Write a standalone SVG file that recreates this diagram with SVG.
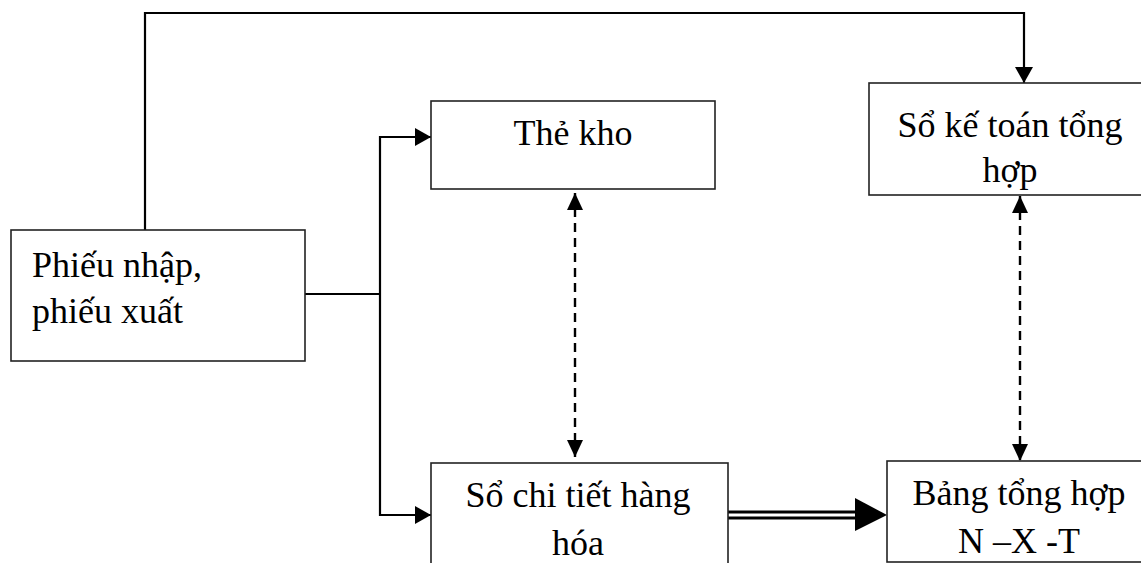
<svg xmlns="http://www.w3.org/2000/svg" width="1141" height="563" viewBox="0 0 1141 563">
  <style>
    .box { fill: #ffffff; stroke: #222222; stroke-width: 1.6; }
    .lbl { font-family: "Liberation Serif", "Times New Roman", serif; font-size: 36px; fill: #000000; }
    .mid { text-anchor: middle; }
    .link { fill: none; stroke: #000000; stroke-width: 2.2; }
    .dash { fill: none; stroke: #000000; stroke-width: 2.4; stroke-dasharray: 9 6; }
    .dbl { fill: none; stroke: #000000; stroke-width: 3.2; }
  </style>
  <defs>
    <marker id="arrow" markerUnits="userSpaceOnUse" markerWidth="16" markerHeight="18" refX="16" refY="9" orient="auto">
      <path d="M0,0 L16,9 L0,18 Z" fill="#000000"/>
    </marker>
    <marker id="arrowDash" markerUnits="userSpaceOnUse" markerWidth="17" markerHeight="16" refX="17" refY="8" orient="auto-start-reverse">
      <path d="M0,0 L17,8 L0,16 Z" fill="#000000"/>
    </marker>
  </defs>

  <rect width="1141" height="563" fill="#ffffff"/>

  <g id="connectors">
    <!-- feed from the vouchers box up and over to the general ledger -->
    <polyline class="link" points="145,230 145,13 1024,13 1024,83" marker-end="url(#arrow)"/>
    <!-- trunk from the vouchers box splitting to stock card and detail ledger -->
    <line class="link" x1="305" y1="294" x2="381" y2="294"/>
    <line class="link" x1="380" y1="136" x2="380" y2="516"/>
    <line class="link" x1="379" y1="137" x2="431" y2="137" marker-end="url(#arrow)"/>
    <line class="link" x1="379" y1="515" x2="431" y2="515" marker-end="url(#arrow)"/>
    <!-- two-way reconciliation links -->
    <line class="dash" x1="575" y1="193" x2="575" y2="457" marker-start="url(#arrowDash)" marker-end="url(#arrowDash)"/>
    <line class="dash" x1="1020" y1="196" x2="1020" y2="461" marker-start="url(#arrowDash)" marker-end="url(#arrowDash)"/>
    <!-- double-line transfer into the summary table -->
    <line class="dbl" x1="728" y1="512" x2="857" y2="512"/>
    <line class="dbl" x1="728" y1="518" x2="857" y2="518"/>
    <polygon points="855,498 887,515 855,531" fill="#000000"/>
  </g>

  <g id="vouchers">
    <rect class="box" x="11" y="230" width="294" height="131"/>
    <text class="lbl" x="32" y="277">Phiếu nhập,</text>
    <text class="lbl" x="32" y="323">phiếu xuất</text>
  </g>

  <g id="stock-card">
    <rect class="box" x="431" y="101" width="284" height="88"/>
    <text class="lbl mid" x="573" y="145">Thẻ kho</text>
  </g>

  <g id="general-ledger">
    <rect class="box" x="869" y="83" width="290" height="112"/>
    <text class="lbl mid" x="1010" y="137">Sổ kế toán tổng</text>
    <text class="lbl mid" x="1010" y="182">hợp</text>
  </g>

  <g id="detail-ledger">
    <rect class="box" x="431" y="463" width="297" height="120"/>
    <text class="lbl mid" x="578" y="507">Sổ chi tiết hàng</text>
    <text class="lbl mid" x="578" y="555">hóa</text>
  </g>

  <g id="summary-table">
    <rect class="box" x="887" y="461" width="270" height="101"/>
    <text class="lbl mid" x="1019" y="505">Bảng tổng hợp</text>
    <text class="lbl mid" x="1019" y="553">N –X -T</text>
  </g>
</svg>
